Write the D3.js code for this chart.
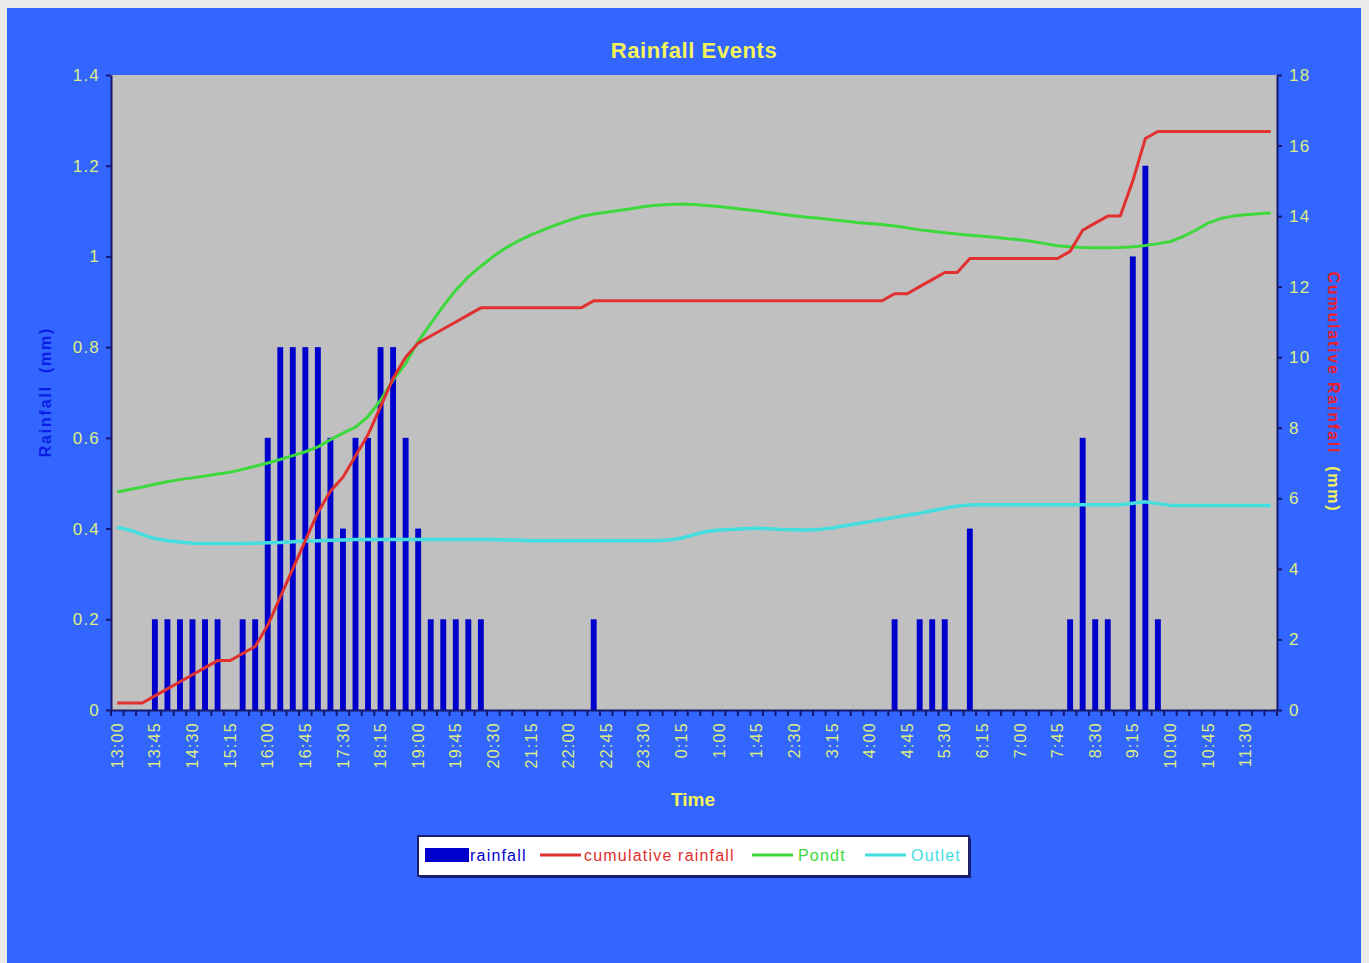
<!DOCTYPE html>
<html><head><meta charset="utf-8">
<script src="https://cdn.jsdelivr.net/npm/d3@7"></script>
<style>
html,body{margin:0;padding:0;background:#ebebeb;overflow:hidden;}
svg{display:block;}
text{font-family:"Liberation Sans",Arial,sans-serif;}
</style></head><body>
<svg id="c" width="1369" height="963"></svg>
<script>
const categories = [
"13:00","13:15","13:30","13:45","14:00","14:15","14:30","14:45","15:00","15:15","15:30","15:45",
"16:00","16:15","16:30","16:45","17:00","17:15","17:30","17:45","18:00","18:15","18:30","18:45",
"19:00","19:15","19:30","19:45","20:00","20:15","20:30","20:45","21:00","21:15","21:30","21:45",
"22:00","22:15","22:30","22:45","23:00","23:15","23:30","23:45","0:00","0:15","0:30","0:45",
"1:00","1:15","1:30","1:45","2:00","2:15","2:30","2:45","3:00","3:15","3:30","3:45",
"4:00","4:15","4:30","4:45","5:00","5:15","5:30","5:45","6:00","6:15","6:30","6:45",
"7:00","7:15","7:30","7:45","8:00","8:15","8:30","8:45","9:00","9:15","9:30","9:45",
"10:00","10:15","10:30","10:45","11:00","11:15","11:30","11:45","12:00"];

const tickLabels = ["13:00","13:45","14:30","15:15","16:00","16:45","17:30","18:15","19:00","19:45",
"20:30","21:15","22:00","22:45","23:30","0:15","1:00","1:45","2:30","3:15","4:00","4:45","5:30",
"6:15","7:00","7:45","8:30","9:15","10:00","10:45","11:30"];

const rainfall = [
0,0,0,0.2, 0.2,0.2,0.2,0.2, 0.2,0,0.2,0.2, 0.6,0.8,0.8,0.8, 0.8,0.6,0.4,0.6, 0.6,0.8,0.8,0.6,
0.4,0.2,0.2,0.2, 0.2,0.2,0,0, 0,0,0,0, 0,0,0.2,0, 0,0,0,0, 0,0,0,0,
0,0,0,0, 0,0,0,0, 0,0,0,0, 0,0,0.2,0, 0.2,0.2,0.2,0, 0.4,0,0,0,
0,0,0,0, 0.2,0.6,0.2,0.2, 0,1.0,1.2,0.2, 0,0,0,0, 0,0,0,0, 0];

const cumulativeRainfall = [
0.2,0.2,0.2,0.4, 0.6,0.8,1.0,1.2, 1.4,1.4,1.6,1.8, 2.4,3.2,4.0,4.8, 5.6,6.2,6.6,7.2, 7.8,8.6,9.4,10.0,
10.4,10.6,10.8,11.0, 11.2,11.4,11.4,11.4, 11.4,11.4,11.4,11.4, 11.4,11.4,11.6,11.6, 11.6,11.6,11.6,11.6, 11.6,11.6,11.6,11.6,
11.6,11.6,11.6,11.6, 11.6,11.6,11.6,11.6, 11.6,11.6,11.6,11.6, 11.6,11.6,11.8,11.8, 12.0,12.2,12.4,12.4, 12.8,12.8,12.8,12.8,
12.8,12.8,12.8,12.8, 13.0,13.6,13.8,14.0, 14.0,15.0,16.2,16.4, 16.4,16.4,16.4,16.4, 16.4,16.4,16.4,16.4, 16.4];

const pondt = [
6.18,6.25,6.32,6.40, 6.47,6.53,6.58,6.63, 6.69,6.74,6.82,6.91, 7.00,7.10,7.21,7.32, 7.46,7.66,7.85,8.02,
8.32,8.78,9.35,9.82, 10.45,10.95,11.45,11.90, 12.28,12.58,12.86,13.10, 13.30,13.47,13.61,13.75,
13.88,13.99,14.06,14.11, 14.16,14.21,14.27,14.31, 14.33,14.34,14.33,14.30, 14.27,14.23,14.19,14.15,
14.10,14.05,14.01,13.97, 13.94,13.90,13.86,13.82, 13.79,13.76,13.72,13.67, 13.61,13.57,13.53,13.49,
13.46,13.43,13.40,13.36, 13.33,13.28,13.22,13.16, 13.13,13.11,13.10,13.10, 13.11,13.13,13.17,13.22,
13.28,13.42,13.60,13.80, 13.93,14.00,14.04,14.07, 14.09];

const outlet = [
5.18,5.10,4.97,4.86, 4.80,4.76,4.73,4.72, 4.72,4.72,4.72,4.73, 4.74,4.75,4.77,4.79, 4.80,4.81,4.82,4.83,
4.83,4.83,4.83,4.83, 4.83,4.83,4.83,4.83, 4.83,4.83,4.83,4.82, 4.81,4.80,4.80,4.80, 4.80,4.80,4.80,4.80,
4.80,4.80,4.80,4.80, 4.82,4.87,4.97,5.06, 5.10,5.12,5.14,5.15, 5.14,5.12,5.11,5.10, 5.12,5.16,5.22,5.28,
5.34,5.40,5.46,5.52, 5.58,5.65,5.72,5.78, 5.81,5.82,5.82,5.82, 5.82,5.82,5.82,5.82, 5.82,5.82,5.82,5.82,
5.82,5.86,5.90,5.85, 5.80,5.80,5.80,5.80, 5.80,5.80,5.80,5.80, 5.80];

const leftTicks = [0,0.2,0.4,0.6,0.8,1,1.2,1.4];
const rightTicks = [0,2,4,6,8,10,12,14,16,18];

const legendItems = [
  {name:"rainfall", type:"bar", color:"#0000cc", text:"#0000cc"},
  {name:"cumulative rainfall", type:"line", color:"#e03030", text:"#e03030"},
  {name:"Pondt", type:"line", color:"#3cd83c", text:"#3cd83c"},
  {name:"Outlet", type:"line", color:"#45dede", text:"#45dede"}
];

const svg = d3.select("#c");
const W = 1369, H = 963;
const P = {l:111, r:1277, t:75, b:710};
const tickColor = "#dcee84";
const axisColor = "#141870";

// background
svg.append("rect").attr("x",7).attr("y",8).attr("width",1354).attr("height",H-8).attr("fill","#3366ff");
// plot area
svg.append("rect").attr("x",P.l).attr("y",P.t).attr("width",P.r-P.l).attr("height",P.b-P.t).attr("fill","#c0c0c0");

const x = d3.scaleBand().domain(categories).range([P.l,P.r]).padding(0);
const yL = d3.scaleLinear().domain([0,1.4]).range([P.b,P.t]);
const yR = d3.scaleLinear().domain([0,18]).range([P.b,P.t]);
const cx = c => x(c) + x.bandwidth()/2;

// bars
const bw = x.bandwidth()*0.47;
svg.append("g").selectAll("rect").data(categories.map((c,i)=>({c,v:rainfall[i]})).filter(d=>d.v>0))
  .join("rect")
  .attr("x",d=>cx(d.c)-bw/2).attr("width",bw)
  .attr("y",d=>yL(d.v)).attr("height",d=>yL(0)-yL(d.v))
  .attr("fill","#0000cc");

// lines
function drawLine(vals,color,w){
  const line = d3.line().x((d,i)=>cx(categories[i])).y(d=>yR(d));
  svg.append("path").datum(vals).attr("d",line).attr("fill","none")
    .attr("stroke",color).attr("stroke-width",w).attr("stroke-linejoin","round");
}
drawLine(outlet,"#45dede",3.5);
drawLine(pondt,"#3cd83c",3);
drawLine(cumulativeRainfall,"#e03030",3);

// left axis
const gL = svg.append("g").attr("transform",`translate(${P.l},0)`)
  .call(d3.axisLeft(yL).tickValues(leftTicks).tickSize(5).tickSizeOuter(0).tickFormat(d3.format("")));
gL.select(".domain").attr("stroke",axisColor).attr("stroke-width",2);
gL.selectAll(".tick line").attr("stroke",axisColor).attr("stroke-width",2);
gL.selectAll(".tick text").attr("fill",tickColor).attr("font-size",17).attr("letter-spacing",1.2)
  .attr("x",-11).style("font-family","'Liberation Sans',Arial,sans-serif");

// right axis
const gR = svg.append("g").attr("transform",`translate(${P.r},0)`)
  .call(d3.axisRight(yR).tickValues(rightTicks).tickSize(5).tickSizeOuter(0));
gR.select(".domain").attr("stroke",axisColor).attr("stroke-width",2);
gR.selectAll(".tick line").attr("stroke",axisColor).attr("stroke-width",2);
gR.selectAll(".tick text").attr("fill",tickColor).attr("font-size",17).attr("letter-spacing",1.2)
  .attr("x",12).style("font-family","'Liberation Sans',Arial,sans-serif");

// bottom axis
const gB = svg.append("g").attr("transform",`translate(0,${P.b})`)
  .call(d3.axisBottom(x).tickValues(tickLabels).tickSize(0).tickSizeOuter(0));
gB.select(".domain").attr("stroke",axisColor).attr("stroke-width",2);
gB.selectAll(".tick text").attr("fill",tickColor).attr("font-size",16).attr("letter-spacing",1.3)
  .style("font-family","'Liberation Sans',Arial,sans-serif")
  .attr("text-anchor","end").attr("transform","rotate(-90)")
  .attr("x",-12).attr("y",0).attr("dy","0.35em");
// category boundary ticks
svg.append("g").selectAll("line").data(categories.map(c=>x(c)).concat([x.range()[1]]))
  .join("line").attr("x1",d=>d).attr("x2",d=>d).attr("y1",P.b).attr("y2",P.b+6)
  .attr("stroke",axisColor).attr("stroke-width",2);

// title
svg.append("text").attr("x",694).attr("y",58).attr("text-anchor","middle")
  .attr("font-size",22).attr("font-weight","bold").attr("fill","#f3f35a").attr("letter-spacing",0.6)
  .text("Rainfall Events");
// x title
svg.append("text").attr("x",693).attr("y",806).attr("text-anchor","middle")
  .attr("font-size",19).attr("font-weight","bold").attr("fill","#f3f35a")
  .text("Time");

// left y title
const lt = svg.append("text").attr("transform","translate(51,392) rotate(-90)").attr("text-anchor","middle")
  .attr("font-size",16).attr("font-weight","bold").attr("fill","#0a1ee6").attr("letter-spacing",1.8);
lt.append("tspan").text("Rainfall");
lt.append("tspan").attr("dx",12).text("(mm)");

// right y title
const rt = svg.append("text").attr("transform","translate(1328,392) rotate(90)").attr("text-anchor","middle")
  .attr("font-size",16).attr("font-weight","bold").attr("letter-spacing",1.8);
rt.append("tspan").attr("fill","#e8202c").text("Cumulative Rainfall");
rt.append("tspan").attr("dx",12).attr("fill","#f3f35a").text("(mm)");

// legend
const lg = svg.append("g");
lg.append("rect").attr("x",420).attr("y",838).attr("width",551).attr("height",40).attr("fill","#1a1f70");
lg.append("rect").attr("x",418).attr("y",836).attr("width",551).attr("height",40)
  .attr("fill","#ffffff").attr("stroke","#1a1f70").attr("stroke-width",2);
const legendX = [425, 540, 752, 865];
const legendText = [470, 584, 798, 911];
legendItems.forEach((it,i)=>{
  if(it.type==="bar"){
    lg.append("rect").attr("x",legendX[i]).attr("y",848).attr("width",44).attr("height",14).attr("fill",it.color);
  } else {
    lg.append("line").attr("x1",legendX[i]).attr("x2",legendX[i]+41).attr("y1",855).attr("y2",855)
      .attr("stroke",it.color).attr("stroke-width",3);
  }
  lg.append("text").attr("x",legendText[i]).attr("y",861).attr("font-size",16).attr("letter-spacing",1.2)
    .attr("fill",it.text).text(it.name);
});
</script>
</body></html>
